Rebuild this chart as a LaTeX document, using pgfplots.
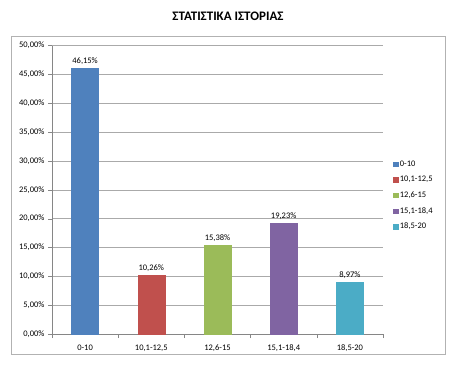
\documentclass[border=0pt]{standalone}
\usepackage{pgfplots}
\pgfplotsset{compat=1.18}
\usepackage{fontspec}
\setmainfont{Carlito}
\definecolor{c1}{HTML}{4F81BD}
\definecolor{c2}{HTML}{C0504D}
\definecolor{c3}{HTML}{9BBB59}
\definecolor{c4}{HTML}{8064A2}
\definecolor{c5}{HTML}{4BACC6}
\definecolor{gridc}{HTML}{868686}
\begin{document}
\begin{tikzpicture}[x=1pt,y=1pt]
\useasboundingbox (0,0) rectangle (455,365);
\draw[gray!60, line width=0.8pt] (11.5,11) rectangle (445.5,329);
\node[font=\bfseries\fontsize{13}{15}\selectfont] at (228,349) {ΣΤΑΤΙΣΤΙΚΑ ΙΣΤΟΡΙΑΣ};
\begin{axis}[
  at={(52pt,31pt)}, anchor=south west,
  scale only axis, width=331pt, height=288.5pt,
  xmin=-0.5, xmax=4.5, ymin=0, ymax=50,
  axis x line*=bottom, axis y line*=left,
  axis line style={gridc},
  xtick={0,1,2,3,4},
  xticklabels={0-10,{10,1-12,5},{12,6-15},{15,1-18,4},{18,5-20}},
  minor xtick={-0.5,0.5,1.5,2.5,3.5,4.5},
  ytick={0,5,...,50},
  yticklabels={{0,00\%},{5,00\%},{10,00\%},{15,00\%},{20,00\%},{25,00\%},{30,00\%},{35,00\%},{40,00\%},{45,00\%},{50,00\%}},
  ymajorgrids, grid style={gridc!70, line width=0.5pt},
  major x tick style={draw=none},
  minor x tick style={gridc},
  minor tick length=4pt,
  y tick style={gridc}, major tick length=4pt,
  tick align=outside,
  tick label style={font=\fontsize{8.5}{10}\selectfont},
  /pgf/number format/assume math mode=true,
  xticklabel style={yshift=-3pt},
  ybar, bar width=27pt, bar shift=0pt,
  nodes near coords={\pgfmathprintnumber[fixed,zerofill,precision=2,use comma]{\pgfplotspointmeta}\%},
  nodes near coords style={font=\fontsize{8.5}{10}\selectfont, text=black},
  legend style={at={(1.03,0.48)}, anchor=west, draw=none, fill=none,
    font=\fontsize{8.5}{10}\selectfont, row sep=4.5pt, inner sep=0pt},
  legend cell align=left,
  legend image code/.code={\fill[#1] (0pt,-2.2pt) rectangle (4.4pt,2.2pt);},
]
\addplot[fill=c1, draw=c1] coordinates {(0,46.15)};
\addplot[fill=c2, draw=c2] coordinates {(1,10.26)};
\addplot[fill=c3, draw=c3] coordinates {(2,15.38)};
\addplot[fill=c4, draw=c4] coordinates {(3,19.23)};
\addplot[fill=c5, draw=c5] coordinates {(4,8.97)};
\legend{0-10,{10,1-12,5},{12,6-15},{15,1-18,4},{18,5-20}}
\end{axis}
\end{tikzpicture}
\end{document}
